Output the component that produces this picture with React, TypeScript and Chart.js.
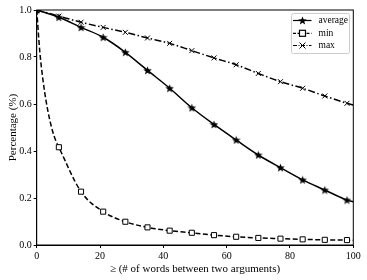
import { useEffect, useRef } from "react";
import { Chart, registerables } from "chart.js";
Chart.register(...registerables);

const markerXs = [0, 7, 14, 21, 28, 35, 42, 49, 56, 63, 70, 77, 84, 91, 98];

const avgX = [0, 7, 14, 21, 28, 35, 42, 49, 56, 63, 70, 77, 84, 91, 98, 100];
const avgY = [1.0, 0.969, 0.926, 0.884, 0.82, 0.743, 0.667, 0.584, 0.513, 0.447, 0.383, 0.329, 0.277, 0.234, 0.191, 0.184];

const minX = [0, 1, 2, 3, 4, 5, 6, 7, 14, 21, 28, 35, 42, 49, 56, 63, 70, 77, 84, 91, 98, 100];
const minY = [1.0, 0.82, 0.7, 0.61, 0.54, 0.485, 0.445, 0.416, 0.227, 0.142, 0.099, 0.075, 0.061, 0.052, 0.042, 0.035, 0.03, 0.027, 0.024, 0.022, 0.021, 0.02];

const maxX = [0, 7, 14, 21, 28, 35, 42, 49, 56, 63, 70, 77, 84, 91, 98, 100];
const maxY = [1.0, 0.974, 0.948, 0.926, 0.905, 0.881, 0.858, 0.827, 0.796, 0.767, 0.73, 0.695, 0.667, 0.634, 0.603, 0.595];

const seriesNames = ["average", "min", "max"];
const xTitle = "\u2265 (# of words between two arguments)";
const yTitle = "Percentage (%)";

const FONT = "'Liberation Serif', 'DejaVu Serif', serif";

function makeStar(size: number): HTMLCanvasElement {
  const c = document.createElement("canvas");
  c.width = size;
  c.height = size;
  const g = c.getContext("2d")!;
  const cx = size / 2, cy = size / 2 + 0.4;
  const R = size / 2, r = R * 0.42;
  g.beginPath();
  for (let i = 0; i < 10; i++) {
    const rad = i % 2 === 0 ? R : r;
    const a = -Math.PI / 2 + (i * Math.PI) / 5;
    const px = cx + rad * Math.cos(a), py = cy + rad * Math.sin(a);
    if (i === 0) g.moveTo(px, py); else g.lineTo(px, py);
  }
  g.closePath();
  g.fillStyle = "#000";
  g.fill();
  return c;
}

function pts(xs: number[], ys: number[]) {
  return xs.map((x, i) => ({ x, y: ys[i] }));
}
function radii(xs: number[], r: number) {
  return xs.map((x) => (markerXs.includes(x) ? r : 0));
}

export default function App() {
  const ref = useRef<HTMLCanvasElement>(null);
  useEffect(() => {
    document.body.style.margin = "0";
    const star = makeStar(9);
    const frame = {
      id: "frame",
      afterDraw(chart: any) {
        const { ctx, chartArea: a } = chart;
        ctx.save();
        ctx.strokeStyle = "#000";
        ctx.lineWidth = 1;
        ctx.strokeRect(a.left, a.top, a.right - a.left, a.bottom - a.top);
        // legend
        const lx = 291, ly = 13, lw = 58, lh = 40;
        ctx.fillStyle = "rgba(255,255,255,0.8)";
        ctx.strokeStyle = "#ccc";
        ctx.beginPath();
        (ctx as any).roundRect(lx + 0.5, ly + 0.5, lw, lh, 2);
        ctx.fill();
        ctx.stroke();
        const rows = [20.5, 33.3, 45.5];
        const dashes = [[], [3, 1.5], [4, 1.5, 1, 1.5]];
        rows.forEach((ry, i) => {
          ctx.strokeStyle = "#000";
          ctx.lineWidth = 1.2;
          ctx.setLineDash(dashes[i]);
          ctx.beginPath();
          ctx.moveTo(293, ry);
          ctx.lineTo(311.5, ry);
          ctx.stroke();
          ctx.setLineDash([]);
          const mx = 302.5;
          if (i === 0) {
            ctx.drawImage(star, mx - 4.5, ry - 4.5);
          } else if (i === 1) {
            ctx.fillStyle = "#fff";
            ctx.fillRect(mx - 3, ry - 3, 6, 6);
            ctx.strokeRect(mx - 3, ry - 3, 6, 6);
          } else {
            ctx.lineWidth = 1;
            ctx.beginPath();
            ctx.moveTo(mx - 3, ry - 3); ctx.lineTo(mx + 3, ry + 3);
            ctx.moveTo(mx + 3, ry - 3); ctx.lineTo(mx - 3, ry + 3);
            ctx.stroke();
          }
          ctx.fillStyle = "#000";
          ctx.font = `9.5px ${FONT}`;
          ctx.textBaseline = "middle";
          ctx.fillText(seriesNames[i], 318.5, ry);
        });
        ctx.restore();
      },
    };
    const chart = new Chart(ref.current!, {
      type: "line",
      data: {
        datasets: [
          {
            label: seriesNames[0],
            data: pts(avgX, avgY),
            borderColor: "#000",
            borderWidth: 1.5,
            pointStyle: star as any,
            pointRadius: radii(avgX, 4.5),
            cubicInterpolationMode: "monotone",
          },
          {
            label: seriesNames[1],
            data: pts(minX, minY),
            borderColor: "#000",
            borderWidth: 1.5,
            borderDash: [5, 2.5],
            pointStyle: "rect",
            pointBackgroundColor: "#fff",
            pointBorderColor: "#000",
            pointBorderWidth: 1,
            pointRadius: radii(minX, 3.6),
            cubicInterpolationMode: "monotone",
          },
          {
            label: seriesNames[2],
            data: pts(maxX, maxY),
            borderColor: "#000",
            borderWidth: 1.5,
            borderDash: [7, 2.5, 1.5, 2.5],
            pointStyle: "crossRot",
            pointBorderColor: "#000",
            pointBorderWidth: 1,
            pointRadius: radii(maxX, 3.5),
            cubicInterpolationMode: "monotone",
          },
        ],
      },
      options: {
        animation: false,
        responsive: false,
        layout: { padding: { top: 10, right: 13.7, left: 0, bottom: 0 } },
        plugins: { legend: { display: false }, tooltip: { enabled: false } },
        scales: {
          x: {
            type: "linear",
            min: 0,
            max: 100,
            ticks: { stepSize: 20, color: "#000", font: { family: FONT, size: 10 }, maxRotation: 0, padding: 2 },
            grid: { drawOnChartArea: false, drawTicks: true, tickLength: 3, color: "#000" },
            border: { color: "#000" },
            title: { display: true, text: xTitle, color: "#000", font: { family: FONT, size: 11 }, padding: { top: 0, bottom: 4 } },
            afterFit: (s: any) => { s.height = 35; },
          },
          y: {
            min: 0,
            max: 1,
            ticks: { stepSize: 0.2, color: "#000", font: { family: FONT, size: 10 }, padding: 2, callback: (v: any) => Number(v).toFixed(1) },
            grid: { drawOnChartArea: false, drawTicks: true, tickLength: 3, color: "#000" },
            border: { color: "#000" },
            title: { display: true, text: yTitle, color: "#000", font: { family: FONT, size: 11 }, padding: { top: 7, bottom: 0 } },
            afterFit: (s: any) => { s.width = 36.7; },
          },
        },
      },
      plugins: [frame],
    });
    return () => chart.destroy();
  }, []);
  return <canvas ref={ref} width={367} height={280} style={{ display: "block" }} />;
}
